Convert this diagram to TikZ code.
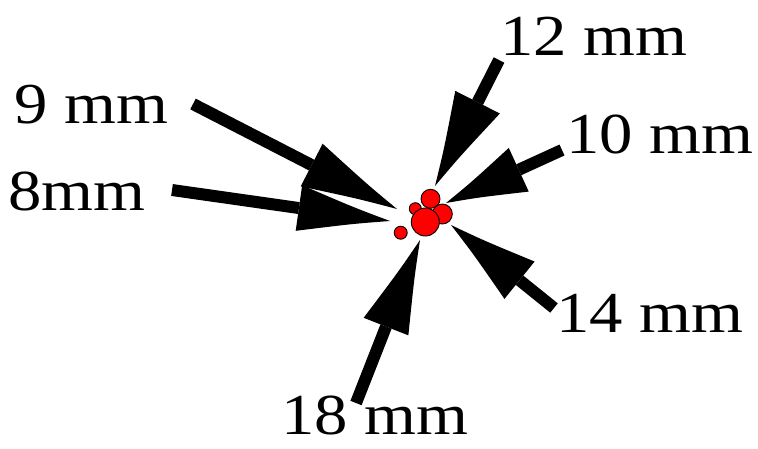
\documentclass[tikz,border=0pt]{standalone}
\usepackage{fontspec}
\setmainfont{Liberation Serif}[FakeStretch=1.15]
\usetikzlibrary{calc}
\usepackage{xcolor}
\definecolor{spotInk}  {HTML}{000000}
\definecolor{spotFill} {HTML}{FF0000}
\newcommand{\spike}[5]{%
  \coordinate (#5b) at ($(#2)!#3!(#1)$);
  \coordinate (#5l) at ($(#5b)!#4!90:(#2)$);
  \coordinate (#5r) at ($(#5b)!#4!-90:(#2)$);
  \coordinate (#5m) at ($(#5b)!0.6!(#2)$);
  \draw[shaft] (#1) -- (#5b);
  \fill[spikefill] (#5l) .. controls ($(#5l)!0.6!(#2)!0.12!(#5m)$) .. (#2)
    .. controls ($(#5r)!0.6!(#2)!0.12!(#5m)$) .. (#5r) -- cycle;
}

\begin{document}
\begin{tikzpicture}[x=1pt, y=-1pt,
  lbl/.style     ={font=\fontsize{58}{58}\selectfont, text=spotInk, inner sep=0pt, anchor=base west},
  shaft/.style   ={line width=12pt, spotInk},
  spikefill/.style={fill=spotInk},
  spot/.style    ={draw=spotInk, line width=0.9pt, fill=spotFill},
]
\useasboundingbox (0,0) rectangle (758,448);

% labels
\node[lbl] (l9)  at (14,123)  {9 mm};
\node[lbl] (l8)  at (8,210)   {8mm};
\node[lbl] (l12) at (500,55)  {12 mm};
\node[lbl] (l10) at (566,153) {10 mm};
\node[lbl] (l14) at (556,332) {14 mm};
\node[lbl] (l18) at (281,434) {18 mm};

% shaft ends and tips
\coordinate (s9)  at (193,104); \coordinate (t9)  at (397,209);
\coordinate (s8)  at (172,190); \coordinate (t8)  at (390,221);
\coordinate (s12) at (499,60);  \coordinate (t12) at (435,186);
\coordinate (s10) at (562,150); \coordinate (t10) at (446,203);
\coordinate (s14) at (554,308); \coordinate (t14) at (451,225);
\coordinate (s18) at (356,403); \coordinate (t18) at (420,240);

\spike{s12}{t12}{94pt}{25pt}{a}
\spike{s10}{t10}{80pt}{24pt}{b}
\spike{s14}{t14}{88pt}{24pt}{c}
\spike{s18}{t18}{93pt}{24pt}{d}
\spike{s9}{t9}{96pt}{24pt}{e}
\spike{s8}{t8}{92pt}{23pt}{f}

% red spots
\draw[spot] (415.3,208.7) circle (6);
\draw[spot] (430.5,198.8) circle (9.5);
\draw[spot] (442.3,214)   circle (10);
\draw[spot] (425.3,222)   circle (14);
\draw[spot] (400.7,232.7) circle (6.5);

\end{tikzpicture}
\end{document}
